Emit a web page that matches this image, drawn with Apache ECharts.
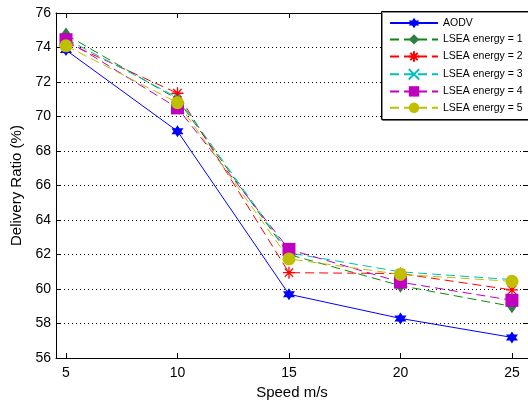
<!DOCTYPE html>
<html>
<head>
<meta charset="utf-8">
<script src="https://cdn.jsdelivr.net/npm/echarts@6/dist/echarts.min.js"></script>
<style>
  html, body { margin: 0; padding: 0; background: #fff; }
  #chart { width: 528px; height: 405px; }
</style>
</head>
<body>
<div id="chart"></div>
<script>
var speeds = [5, 10, 15, 20, 25];
var aodv    = [73.85, 69.15, 59.7, 58.3, 57.2];
var energy1 = [74.75, 71.0, 62.0, 60.2, 59.0];
var energy2 = [74.3, 71.35, 60.95, 60.9, 59.95];
var energy3 = [74.5, 71.1, 62.1, 61.0, 60.55];
var energy4 = [74.45, 70.5, 62.3, 60.4, 59.35];
var energy5 = [74.1, 70.8, 61.75, 60.85, 60.45];
var yTicks = [56, 76, 2];

var font = 'Liberation Sans, Arial, sans-serif';

// markers close to matlab ones
var hexagram = 'path://M5,0L9.33,7.5L0.67,7.5Z M5,10L0.67,2.5L9.33,2.5Z';
var asterisk = 'path://M0,5L10,5M5,0L5,10M1.5,1.5L8.5,8.5M8.5,1.5L1.5,8.5';
var cross = 'path://M0,0L10,10M10,0L0,10';

function pairs(ys) {
  var out = [];
  for (var i = 0; i < speeds.length; i++) {
    out.push([speeds[i], ys[i]]);
  }
  return out;
}

function makeSeries(name, ys, color, fill, symbol, size, dashed, stroke) {
  return {
    name: name,
    type: 'line',
    data: pairs(ys),
    symbol: symbol,
    symbolSize: size,
    showAllSymbol: true,
    lineStyle: { color: color, width: 1, type: dashed ? [9, 5] : 'solid' },
    itemStyle: {
      color: fill,
      borderColor: color,
      borderWidth: stroke ? 1.3 : 0
    },
    emphasis: { disabled: true },
    z: 3
  };
}

var myChart = echarts.init(document.getElementById('chart'));
var tickVals = speeds.slice();

var option = {
  animation: false,
  backgroundColor: '#fff',
  grid: { left: 56, top: 13, right: 0, bottom: 43 },
  legend: {
    orient: 'vertical',
    left: 389,
    top: 17.5,
    itemWidth: 48,
    itemHeight: 13,
    itemGap: 5.4,
    padding: 0,
    z: 6,
    textStyle: { fontFamily: font, fontSize: 10.5, color: '#000' },
    data: ['AODV', 'LSEA energy = 1', 'LSEA energy = 2', 'LSEA energy = 3', 'LSEA energy = 4', 'LSEA energy = 5']
  },
  graphic: [{
    type: 'rect',
    shape: { x: 381.5, y: 11.5, width: 150, height: 108 },
    style: { fill: '#fff', stroke: '#000', lineWidth: 1, shadowColor: 'rgba(0,0,0,0.45)', shadowOffsetX: 1, shadowOffsetY: 1 },
    z: 4
  }],
  xAxis: [{
    type: 'value',
    min: 4.552,
    max: 25.72,
    name: 'Speed m/s',
    nameLocation: 'middle',
    nameGap: 25,
    nameTextStyle: { fontFamily: font, fontSize: 15, color: '#000' },
    axisLine: { show: true, lineStyle: { color: '#000', width: 1 } },
    axisTick: { show: true, inside: true, length: 5, customValues: tickVals, lineStyle: { color: '#000' } },
    axisLabel: { customValues: tickVals, fontFamily: font, fontSize: 14, color: '#000', margin: 8 },
    splitLine: { show: false }
  }, {
    type: 'value',
    position: 'top',
    min: 4.552,
    max: 25.72,
    axisLine: { show: true, lineStyle: { color: '#000', width: 1 } },
    axisTick: { show: true, inside: true, length: 5, customValues: tickVals, lineStyle: { color: '#000' } },
    axisLabel: { show: false },
    splitLine: { show: false }
  }],
  yAxis: [{
    type: 'value',
    min: yTicks[0],
    max: yTicks[1],
    interval: yTicks[2],
    name: 'Delivery Ratio (%)',
    nameLocation: 'middle',
    nameGap: 27,
    nameTextStyle: { fontFamily: font, fontSize: 15, color: '#000' },
    axisLine: { show: true, lineStyle: { color: '#000', width: 1 } },
    axisTick: { show: true, inside: true, length: 5, lineStyle: { color: '#000' } },
    axisLabel: { fontFamily: font, fontSize: 14, color: '#000', margin: 5 },
    splitLine: { show: true, lineStyle: { color: '#000', width: 1, type: [1, 3] } }
  }, {
    type: 'value',
    position: 'right',
    min: yTicks[0],
    max: yTicks[1],
    interval: yTicks[2],
    axisLine: { show: true, lineStyle: { color: '#000', width: 1 } },
    axisTick: { show: true, inside: true, length: 5, lineStyle: { color: '#000' } },
    axisLabel: { show: false },
    splitLine: { show: false }
  }],
  series: [
    makeSeries('AODV', aodv, '#0000ff', '#0000ff', hexagram, 12, false, false),
    makeSeries('LSEA energy = 1', energy1, '#0a8a0a', '#2e7d46', 'diamond', [10, 14], true, false),
    makeSeries('LSEA energy = 2', energy2, '#ff0000', '#ff0000', asterisk, 12, true, true),
    makeSeries('LSEA energy = 3', energy3, '#00bfbf', '#00bfbf', cross, 6, true, true),
    makeSeries('LSEA energy = 4', energy4, '#bf00bf', '#bf00bf', 'rect', 13, true, false),
    makeSeries('LSEA energy = 5', energy5, '#bfbf00', '#bfbf00', 'circle', 13, true, false)
  ]
};

myChart.setOption(option);
</script>
</body>
</html>
